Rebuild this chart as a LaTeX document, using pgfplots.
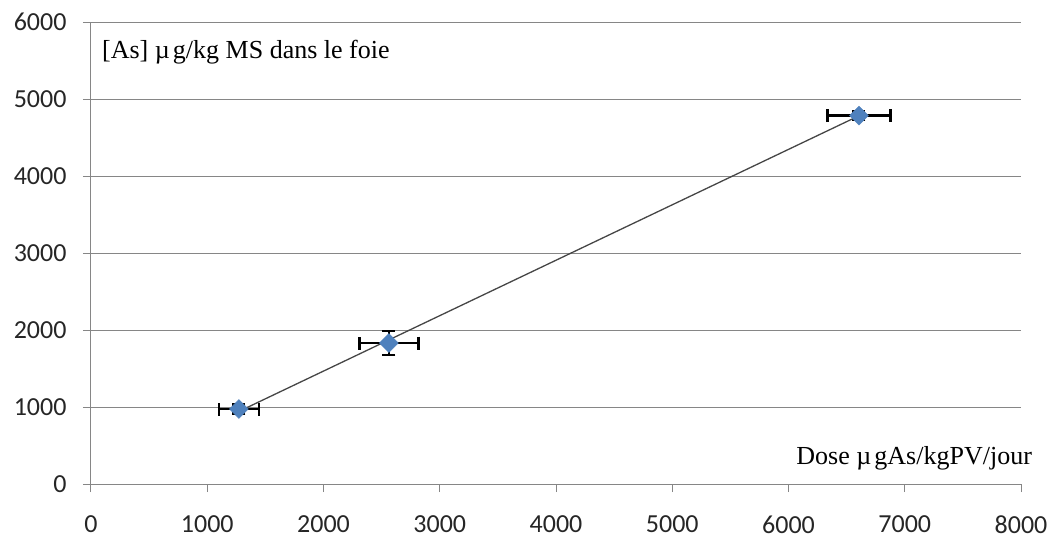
\documentclass[border=0pt]{standalone}
\usepackage{pgfplots}
\pgfplotsset{compat=1.18}
\usepackage{fontspec}
\setmainfont{Liberation Serif}
\newfontfamily\calibri{Carlito}
\definecolor{gridgray}{RGB}{134,134,134}
\definecolor{markblue}{RGB}{79,129,189}
\definecolor{trendgray}{RGB}{70,70,70}

\pgfplotstableread{
x     y     ex   ey
1273  974   172  60
2563  1831  254  156
6606  4785  272  50
}\datatable

\begin{document}
\begin{tikzpicture}
\path[use as bounding box] (-91bp,-55bp) rectangle (962bp,484bp);
\begin{axis}[
  at={(0,0)}, anchor=south west,
  scale only axis, width=930bp, height=462bp,
  xmin=0, xmax=8000, ymin=0, ymax=6000,
  xtick={0,1000,...,8000}, ytick={0,1000,...,6000},
  axis lines=left,
  axis line style={-, gridgray, line width=1bp},
  tick align=outside,
  major tick length=8bp,
  tick style={gridgray, line width=1bp},
  ymajorgrids,
  grid style={gridgray, line width=1bp},
  /pgf/number format/assume math mode=true,
  /pgf/number format/1000 sep={},
  ticklabel style={font=\calibri\fontsize{26bp}{30bp}\selectfont, black!85},
  xticklabel style={yshift=-20bp},
  yticklabel style={xshift=-13bp},
  clip=false,
]
\addplot[only marks, mark=square*, mark size=6.7bp,
  mark options={rotate=45, fill=markblue, draw=markblue},
  error bars/.cd, x dir=both, x explicit, y dir=both, y explicit,
  error mark=|,
  error bar style={line width=2.5bp, black},
  error mark options={mark size=6.5bp, line width=2.5bp, black}]
  table[x=x, y=y, x error=ex, y error=ey] {\datatable};
\addplot[trendgray, line width=1.3bp, no marks] coordinates {(1273,943) (6606,4782)};
\node[anchor=west, inner sep=0, font=\fontsize{26bp}{30bp}\selectfont] at (rel axis cs:0.0118,0.935) {[As] µ\kern0.12em g/kg MS dans le foie};
\node[anchor=east, inner sep=0, font=\fontsize{26bp}{30bp}\selectfont] at (rel axis cs:1.012,0.056) {Dose µ\kern0.12em gAs/kgPV/jour};
\end{axis}
\end{tikzpicture}
\end{document}
